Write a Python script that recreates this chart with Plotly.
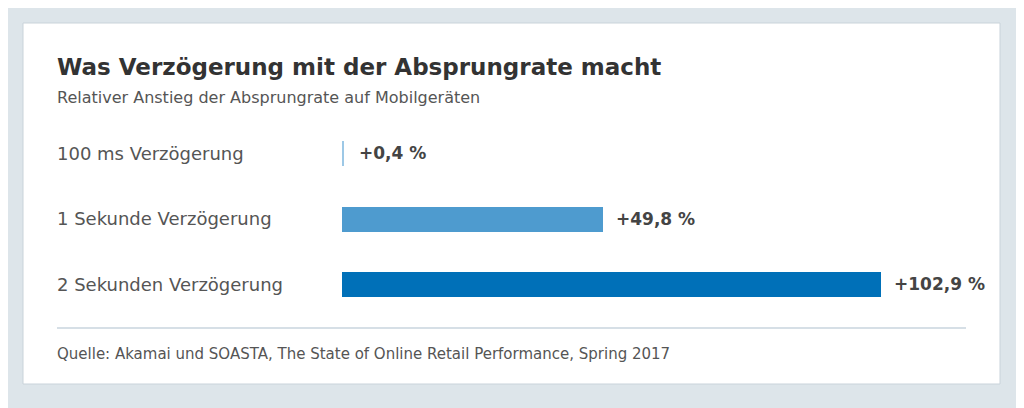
import plotly.graph_objects as go

categories = ["100 ms Verzögerung", "1 Sekunde Verzögerung", "2 Sekunden Verzögerung"]
values = [0.4, 49.8, 102.9]
labels = ["+0,4 %", "+49,8 %", "+102,9 %"]
colors = ["#9dc8e6", "#4e9bcf", "#0070b8"]

W, H = 1024, 408
OFF = 8
def px(x): return (x - OFF) / W
def py(y): return 1 - (y - OFF) / H

fig = go.Figure(go.Bar(
    y=categories, x=values, orientation="h", marker=dict(color=colors, line=dict(width=0)),
    width=0.38, hoverinfo="skip"))

ann = []
for c, v, l in zip(categories, values, labels):
    ann.append(dict(x=max(v, 0.76), y=c, xref="x", yref="y", text="<b>" + l + "</b>", showarrow=False,
                    xanchor="left", xshift=11, font=dict(size=17, color="#444", family="DejaVu Sans")))
    ann.append(dict(x=px(57), y=c, xref="paper", yref="y", text=c, showarrow=False,
                    xanchor="left", xshift=-2, font=dict(size=18, color="#555", family="DejaVu Sans")))
ann += [
    dict(x=px(57), y=py(67), xref="paper", yref="paper", text="<b>Was Verzögerung mit der Absprungrate macht</b>",
         showarrow=False, xanchor="left", yanchor="middle", xshift=-2, font=dict(size=23, color="#333", family="DejaVu Sans")),
    dict(x=px(57), y=py(97), xref="paper", yref="paper", text="Relativer Anstieg der Absprungrate auf Mobilgeräten",
         showarrow=False, xanchor="left", yanchor="middle", xshift=-2, font=dict(size=16, color="#555", family="DejaVu Sans")),
    dict(x=px(57), y=py(354), xref="paper", yref="paper",
         text="Quelle: Akamai und SOASTA, The State of Online Retail Performance, Spring 2017",
         showarrow=False, xanchor="left", yanchor="middle", xshift=-2, font=dict(size=15, color="#555", family="DejaVu Sans")),
]

shapes = [
    dict(type="rect", xref="paper", yref="paper", x0=px(23), x1=px(1000), y0=py(384), y1=py(23),
         fillcolor="white", line=dict(color="#c9d3da", width=1), layer="below"),
    dict(type="line", xref="paper", yref="paper", x0=px(57), x1=px(966), y0=py(328), y1=py(328),
         line=dict(color="#c8d4de", width=1.5)),
]

fig.update_layout(
    width=W, height=H, margin=dict(l=0, r=0, t=0, b=0),
    paper_bgcolor="#dde5ea", plot_bgcolor="rgba(0,0,0,0)", showlegend=False,
    xaxis=dict(domain=[px(342), px(881)], range=[0, 102.9], visible=False, fixedrange=True),
    yaxis=dict(domain=[py(317), py(120.5)], range=[2.5, -0.5], visible=False, fixedrange=True,
               categoryorder="array", categoryarray=categories),
    annotations=ann, shapes=shapes, bargap=0,
)
fig.write_html("out.html", config={"displayModeBar": False})
